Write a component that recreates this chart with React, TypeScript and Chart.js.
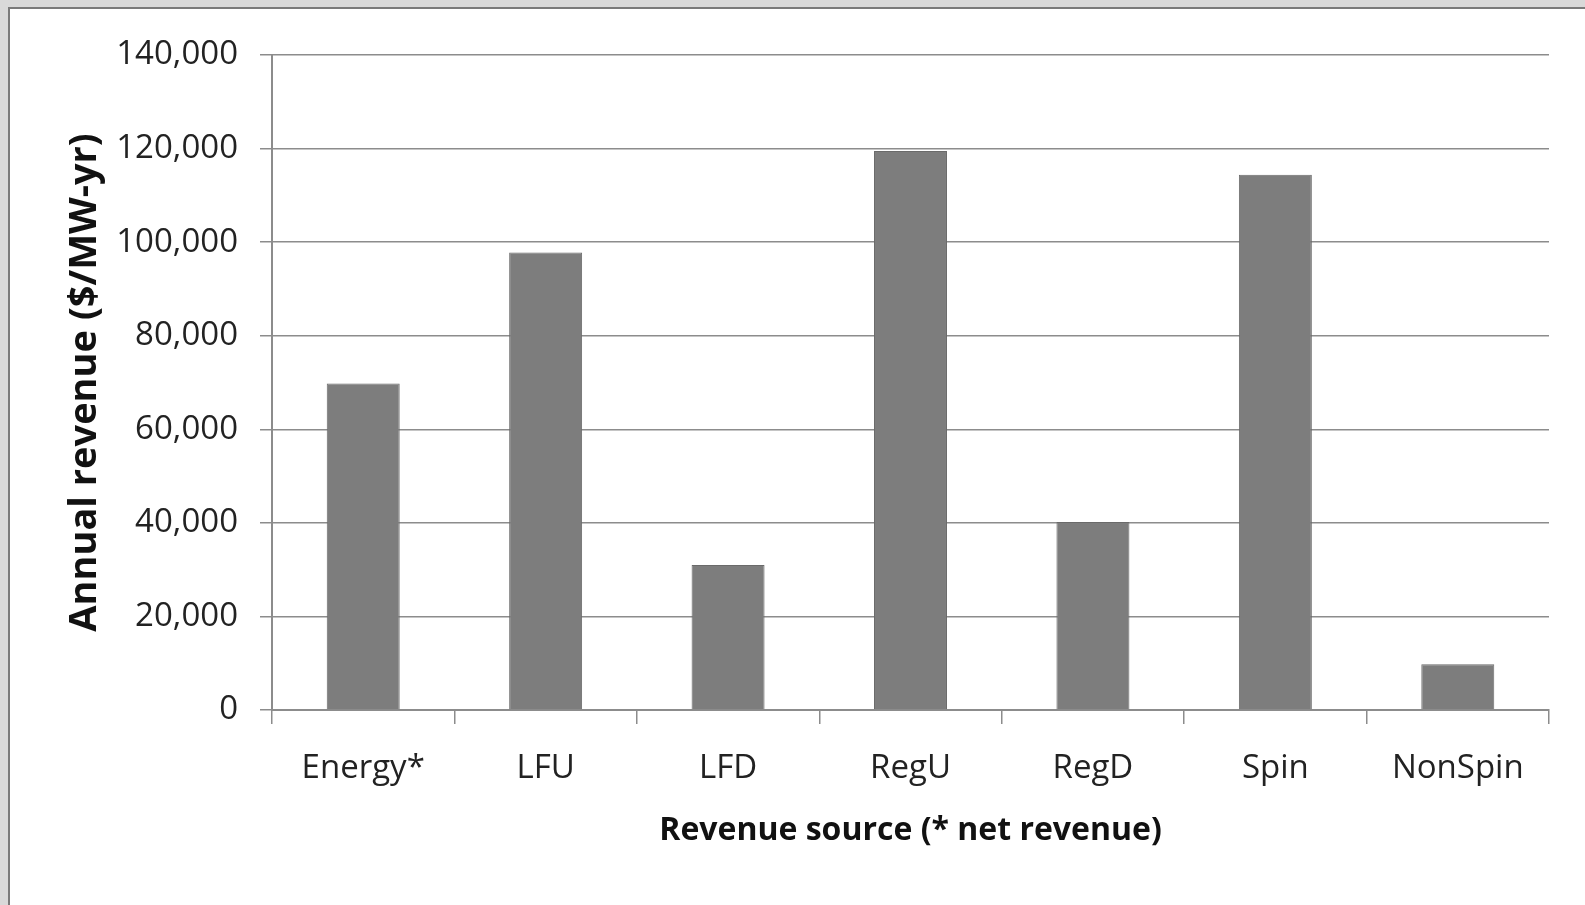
import React, { useEffect, useRef } from "react";
import { Chart, registerables } from "chart.js";

Chart.register(...registerables);

const categories = ["Energy*", "LFU", "LFD", "RegU", "RegD", "Spin", "NonSpin"];
const revenue = [69800, 97800, 31000, 119500, 40200, 114400, 9800];
const yTicks = [0, 20000, 40000, 60000, 80000, 100000, 120000, 140000];
const yTitle = "Annual revenue ($/MW-yr)";
const xTitle = "Revenue source (* net revenue)";

export default function App() {
  const ref = useRef<HTMLCanvasElement | null>(null);

  useEffect(() => {
    if (!ref.current) return;
    const chart = new Chart(ref.current, {
      type: "bar",
      data: {
        labels: categories,
        datasets: [
          {
            data: revenue,
            backgroundColor: "#7d7d7d",
            borderColor: "#6a6a6a",
            borderWidth: 1,
            barPercentage: 0.4,
            categoryPercentage: 1,
          },
        ],
      },
      options: {
        animation: false,
        responsive: true,
        maintainAspectRatio: false,
        layout: { padding: { left: 50, top: 55, right: 36, bottom: 0 } },
        plugins: { legend: { display: false }, tooltip: { enabled: false } },
        scales: {
          x: {
            afterFit: (s: any) => {
              s.height = 195;
            },
            grid: {
              display: true,
              drawOnChartArea: false,
              drawTicks: true,
              tickLength: 14,
              color: "#8c8c8c",
              lineWidth: 1.5,
            },
            border: { display: true, color: "#8c8c8c", width: 2 },
            ticks: {
              color: "#222",
              padding: 25,
              font: { family: "'Open Sans'", size: 33 },
            },
            title: {
              display: true,
              text: xTitle,
              color: "#111",
              padding: { top: 0, bottom: 55 },
              font: { family: "'Open Sans'", size: 32, weight: "bold" },
            },
          },
          y: {
            min: 0,
            max: 140000,
            afterFit: (s: any) => {
              s.width = 222;
            },
            afterBuildTicks: (s: any) => {
              s.ticks = yTicks.map((v) => ({ value: v }));
            },
            grid: {
              color: "#8c8c8c",
              lineWidth: 1.5,
              drawTicks: true,
              tickLength: 12,
            },
            border: { display: true, color: "#8c8c8c", width: 2 },
            ticks: {
              color: "#222",
              padding: 22,
              font: { family: "'Open Sans'", size: 33 },
              callback: (v: any) => Number(v).toLocaleString("en-US"),
            },
            title: {
              display: true,
              text: yTitle,
              color: "#111",
              padding: { top: 12, bottom: 0 },
              font: { family: "'Open Sans'", size: 38, weight: "bold" },
            },
          },
        },
      },
    });
    return () => chart.destroy();
  }, []);

  return (
    <div
      style={{
        position: "fixed",
        left: 0,
        top: 0,
        width: 1585,
        height: 905,
        background: "#fff",
        overflow: "hidden",
      }}
    >
      <div style={{ position: "absolute", left: 0, top: 0, width: 1585, height: 7, background: "#d9d9d9" }} />
      <div style={{ position: "absolute", left: 0, top: 0, width: 8, height: 905, background: "#d9d9d9" }} />
      <div style={{ position: "absolute", left: 8, top: 7, width: 1577, height: 2, background: "#7a7a7a" }} />
      <div style={{ position: "absolute", left: 8, top: 7, width: 2, height: 898, background: "#7a7a7a" }} />
      <div style={{ position: "absolute", left: 0, top: 0, width: 1585, height: 905 }}>
        <canvas ref={ref} />
      </div>
    </div>
  );
}
